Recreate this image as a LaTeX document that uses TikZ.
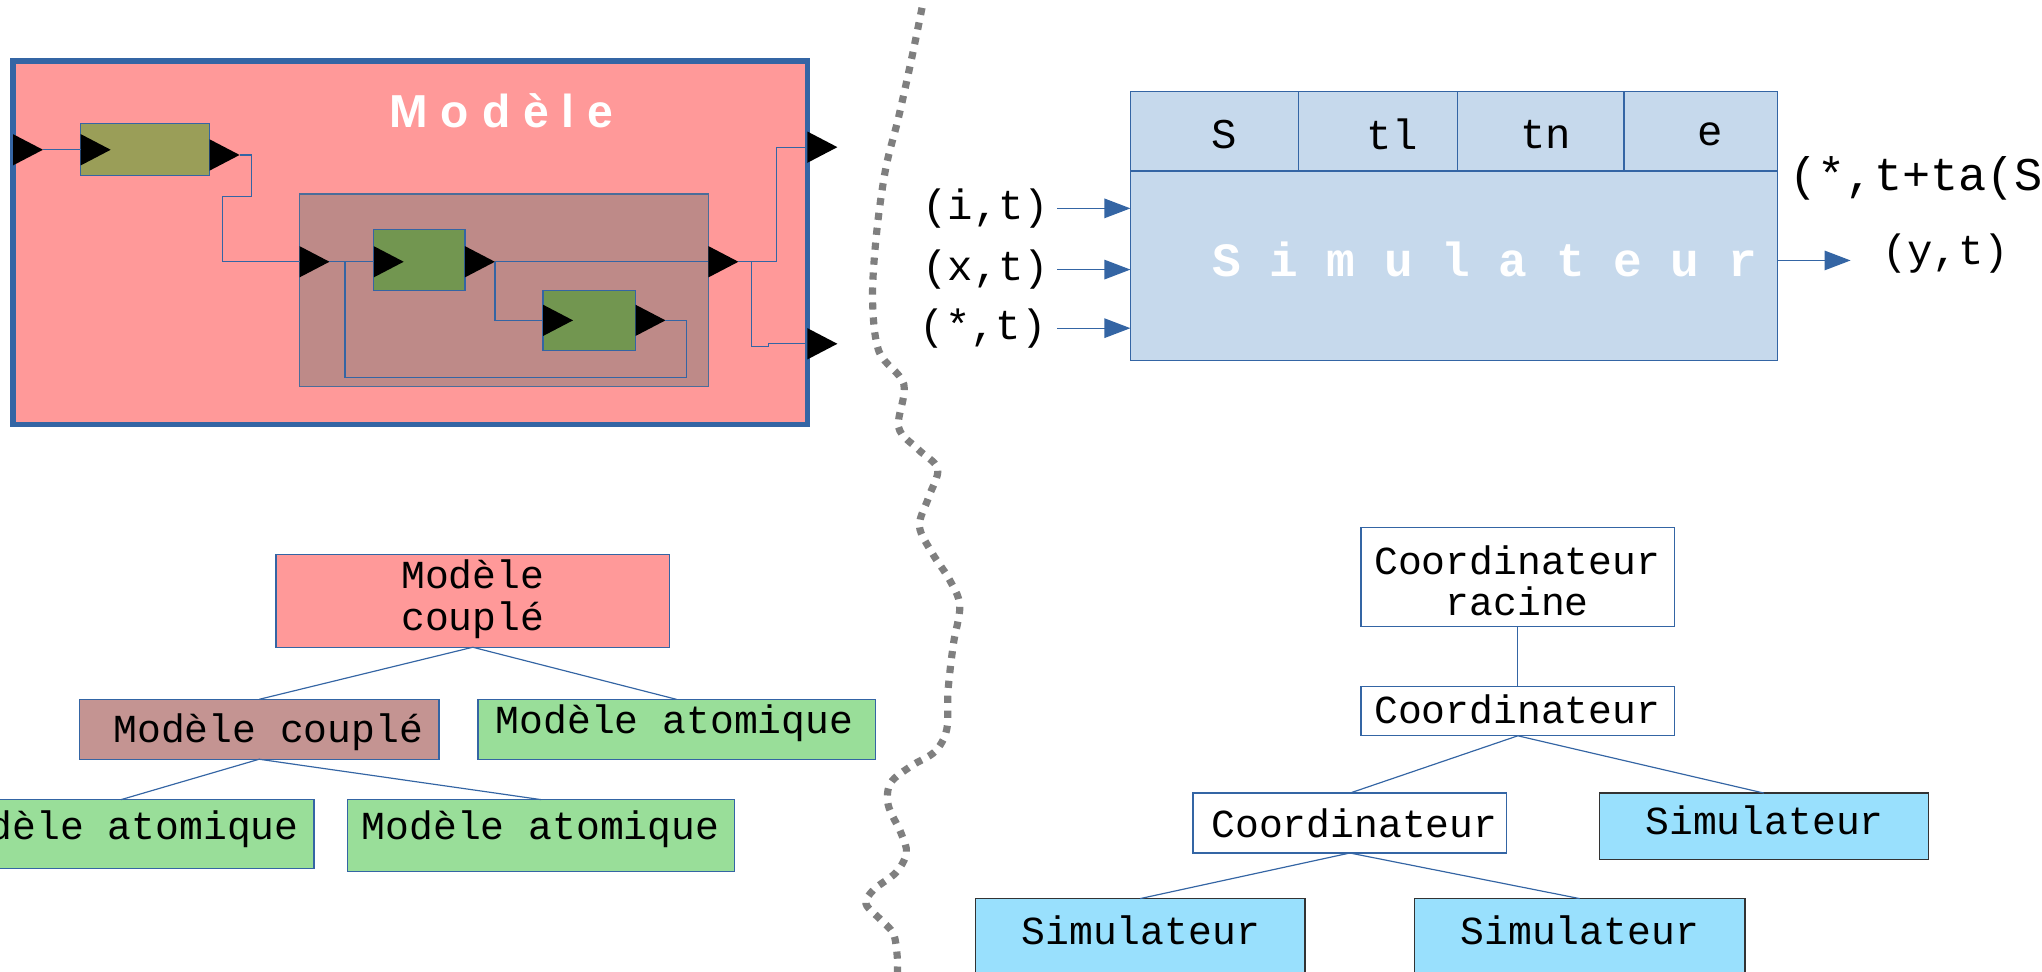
\documentclass[tikz,border=0pt]{standalone}
\usepackage{fontspec}
\setmainfont{Liberation Sans}
\newfontfamily\monof{Liberation Mono}
\newfontfamily\monobf{Liberation Mono Bold}
\newfontfamily\titlef{Liberation Sans Bold}
\usetikzlibrary{arrows.meta}
\definecolor{lblue}{HTML}{3465A4}
\definecolor{pinkbg}{HTML}{FF9999}
\definecolor{olivebox}{HTML}{9A9E58}
\definecolor{brownin}{HTML}{BE8A88}
\definecolor{greensm}{HTML}{729650}
\definecolor{treebrown}{HTML}{C49492}
\definecolor{treegreen}{HTML}{99DE99}
\definecolor{simbg}{HTML}{C6D9EC}
\definecolor{cyanbox}{HTML}{99E0FD}
\definecolor{dotgray}{HTML}{7F7F7F}
\tikzset{
  box/.style={draw=lblue, line width=1pt, inner sep=0pt, outer sep=0pt, anchor=north west},
  simbox/.style={box, draw=black!80, fill=cyanbox},
  mono/.style={font=\monof\fontsize{30.5}{32}\selectfont, inner sep=0pt, text=black, align=center},
  monobig/.style={font=\monof\fontsize{32.5}{34}\selectfont, inner sep=0pt, text=black},
  wire/.style={draw=lblue, line width=1pt},
  tree/.style={draw=lblue, line width=0.9pt},
  inarrow/.style={draw=lblue, line width=1pt, -{Triangle[length=20pt,width=15pt]}},
  portfill/.style={fill=black}
}
\newcommand{\mkbox}[6]{\node[#6, minimum width={#4-#2}, minimum height={#5-#3}] (#1) at (#2,#3) {};}
\newcommand{\port}[3]{\fill[portfill] ({#2},{#3-12}) -- ({#2+23},{#3}) -- ({#2},{#3+12}) -- cycle; \coordinate (#1) at ({#2+23},{#3});}
\begin{document}
\begin{tikzpicture}[x=1pt,y=-1pt]
\useasboundingbox (0,0) rectangle (1568,746);
\clip (0,0) rectangle (1568,746);
\fill[white] (0,0) rectangle (1568,746);

% ---------------- Modèle panel ----------------
\mkbox{outer}{10}{47}{620}{326}{box, fill=pinkbg, line width=4.5pt}
\node[font=\titlef\fontsize{35.5}{40}\selectfont, text=white, anchor=base, inner sep=0pt] (title) at (385,98) {M o d è l e};
\mkbox{olive}{62}{95}{161}{135}{box, fill=olivebox}
\mkbox{inner}{230}{149}{544}{297}{box, fill=brownin, draw=lblue!70!gray}
\mkbox{ga}{287}{176}{357}{223}{box, fill=greensm}
\mkbox{gb}{417}{223}{488}{269}{box, fill=greensm}

\port{pin}{10}{115}
\port{olin}{62}{115}
\port{olout}{161}{119}
\port{inin}{230}{201}
\port{gain}{287}{201}
\port{gaout}{357}{201}
\port{gbin}{417}{246}
\port{gbout}{488}{246}
\port{inout}{544}{201}
\port{pout1}{620}{113}
\port{pout2}{620}{264}

\draw[wire] (pin) -- (olive.west |- pin);
\draw[wire] (olout) -- (193,119) -- (193,151) -- (171,151) -- (171,201) -- (inner.west |- inin);
\draw[wire] (inin) -- (ga.west |- inin);
\draw[wire] (gaout) -- (inner.east |- gaout);
\draw[wire] (gaout) -- (380,246) -- (gb.west |- gbout);
\draw[wire] (gbout) -- (527,246) -- (527,290) -- (265,290) -- (265,201);
\draw[wire] (inout) -- (596,201) -- (596,113) -- (outer.east |- pout1);
\draw[wire] (577,201) -- (577,266) -- (590,266) -- (590,264) -- (outer.east |- pout2);

% ---------------- separator ----------------
\draw[dotgray, line width=5.5pt, dash pattern=on 5.5pt off 6pt] plot[smooth, tension=0.55] coordinates {
(708,6) (700,45) (690,90) (680,130) (673,180) (670,230) (675,270) (694,295) (690,328) (705,345) (720,360) (713,382) (706,404) (716,425) (729,445) (737,465) (732,495) (728,530) (727,560) (718,577) (700,588) (684,601) (682,618) (692,640) (696,655) (688,670) (671,683) (665,694) (676,706) (686,717) (689,735) (689,750)};

% ---------------- Simulateur panel ----------------
\mkbox{sim}{868}{70}{1365}{277}{box, fill=simbg}
\draw[lblue, line width=1.6pt] (sim.west |- 0,131) -- (sim.east |- 0,131);
\draw[lblue, line width=0.8pt] (997,70) -- (997,131) (1119,70) -- (1119,131) (1247,70) -- (1247,131);
\node[monobig] (vS) at (940,103) {S};
\node[monobig] (vtl) at (1069,103) {tl};
\node[monobig] (vtn) at (1187,103) {tn};
\node[monobig] (ve) at (1313,103) {e};
\node[font=\monobf\fontsize{36.7}{40}\selectfont, text=white, anchor=base, inner sep=0pt] (simtxt) at (1140,212.5) {S i m u l a t e u r};

\node[monobig, anchor=east] (it) at (806,160) {(i,t)};
\node[monobig, anchor=east] (xt) at (806,207) {(x,t)};
\node[monobig, anchor=east] (st) at (804,252) {(*,t)};
\draw[inarrow] (812,160) -- (sim.west |- 0,160);
\draw[inarrow] (812,207) -- (sim.west |- 0,207);
\draw[inarrow] (812,252) -- (sim.west |- 0,252);
\coordinate (yout) at (1421,200);
\draw[inarrow] (sim.east |- yout) -- (yout);
\node[monobig, anchor=west] (yt) at (1445,195) {(y,t)};
\node[font=\monof\fontsize{36}{38}\selectfont, inner sep=0pt, anchor=west] (ta) at (1374,137) {(*,t+ta(S))};

% ---------------- left tree ----------------
\mkbox{mc}{212}{426}{514}{497}{box, fill=pinkbg}
\node[mono] (mctxt) at (363,460) {Modèle\\couplé};
\mkbox{mc2}{61}{537}{337}{583}{box, fill=treebrown}
\node[mono] (mc2txt) at (206,562) {Modèle couplé};
\mkbox{ma1}{367}{537}{672}{583}{box, fill=treegreen}
\node[mono] (ma1txt) at (518,555) {Modèle atomique};
\mkbox{ma2}{-55}{614}{241}{667}{box, fill=treegreen}
\node[mono] (ma2txt) at (92,637) {Modèle atomique};
\mkbox{ma3}{267}{614}{564}{669}{box, fill=treegreen}
\node[mono] (ma3txt) at (415,637) {Modèle atomique};
\draw[tree] (mc.south) -- (mc2.north);
\draw[tree] (mc.south) -- (ma1.north);
\draw[tree] (mc2.south) -- (ma2.north);
\draw[tree] (mc2.south) -- (ma3.north);

% ---------------- right tree ----------------
\mkbox{cr}{1045}{405}{1286}{481}{box, fill=white}
\node[mono] (crtxt) at (1165,446) {Coordinateur\\racine};
\mkbox{c1}{1045}{527}{1286}{565}{box, fill=white}
\node[mono] (c1txt) at (1165,545) {Coordinateur};
\mkbox{c2}{916}{609}{1157}{655}{box, fill=white}
\node[mono] (c2txt) at (1040,632) {Coordinateur};
\mkbox{s1}{1228}{609}{1481}{660}{simbox}
\node[mono] (s1txt) at (1355,630) {Simulateur};
\mkbox{s2}{749}{690}{1002}{790}{simbox}
\node[mono] (s2txt) at (876,714) {Simulateur};
\mkbox{s3}{1086}{690}{1340}{790}{simbox}
\node[mono] (s3txt) at (1213,714) {Simulateur};
\draw[tree] (cr.south) -- (c1.north);
\draw[tree] (c1.south) -- (c2.north);
\draw[tree] (c1.south) -- (s1.north);
\draw[tree] (c2.south) -- (s2.north);
\draw[tree] (c2.south) -- (s3.north);
\end{tikzpicture}
\end{document}
